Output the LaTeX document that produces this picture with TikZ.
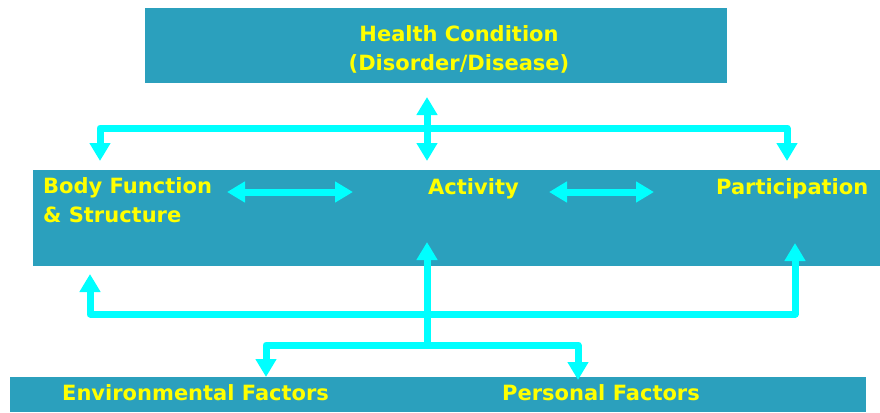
\documentclass[tikz,border=0pt]{standalone}
\usepackage{fontspec}
\setmainfont{DejaVu Sans}
\usetikzlibrary{arrows.meta}
\definecolor{boxteal}{RGB}{43,160,189}
\definecolor{linkcyan}{RGB}{0,255,255}
\definecolor{labelyellow}{RGB}{255,255,0}
\tikzset{
  band/.style={fill=boxteal, draw=none, inner sep=0pt, anchor=north west},
  lbl/.style={text=labelyellow, font=\bfseries\fontsize{21}{29}\selectfont, inner sep=0pt},
  link/.style={draw=linkcyan, line width=7pt, line join=round,
    >={Triangle[width=20pt,length=18pt]}},
}
\begin{document}
\begin{tikzpicture}[x=1pt,y=-1pt]
  \useasboundingbox (0,0) rectangle (880,412);
  % boxes
  \node[band, minimum width=582pt, minimum height=75pt] (health) at (145,8) {};
  \node[band, minimum width=847pt, minimum height=96pt] (middle) at (33,170) {};
  \node[band, minimum width=856pt, minimum height=35pt] (bottom) at (10,377) {};
  % labels
  \node[lbl, align=center] (hc) at (459,49) {Health Condition\\(Disorder/Disease)};
  \node[lbl, align=left, anchor=north west] (bf) at (43,177) {Body Function\\\& Structure};
  \node[lbl, anchor=base west] (act) at (428,194) {Activity};
  \node[lbl, anchor=base west] (part) at (716,194) {Participation};
  \node[lbl, anchor=base west] (env) at (62,400) {Environmental Factors};
  \node[lbl, anchor=base west] (pers) at (502,400) {Personal Factors};
  % connector points
  \coordinate (hcout) at (427,97);
  \coordinate (actin) at (427,161);
  \coordinate (hub) at (427,128);
  \coordinate (bfin) at (100,161);
  \coordinate (partin) at (787,161);
  \coordinate (la) at (227,192);
  \coordinate (lb) at (353,192);
  \coordinate (ra) at (549,192);
  \coordinate (rb) at (654,192);
  \coordinate (bfup) at (90,274);
  \coordinate (partup) at (795,243);
  \coordinate (loop) at (427,314);
  \coordinate (actup) at (427,242);
  \coordinate (fhub) at (427,345);
  \coordinate (envin) at (266,377);
  \coordinate (persin) at (578,380);
  % connectors
  \draw[link,<->] (hcout) -- (actin);
  \draw[link,<->] (bfin) |- (hub) -| (partin);
  \draw[link,<->] (la) -- (lb);
  \draw[link,<->] (ra) -- (rb);
  \draw[link,<->] (bfup) |- (loop) -| (partup);
  \draw[link,->] (fhub) -- (actup);
  \draw[link,<->] (envin) |- (fhub) -| (persin);
\end{tikzpicture}
\end{document}
